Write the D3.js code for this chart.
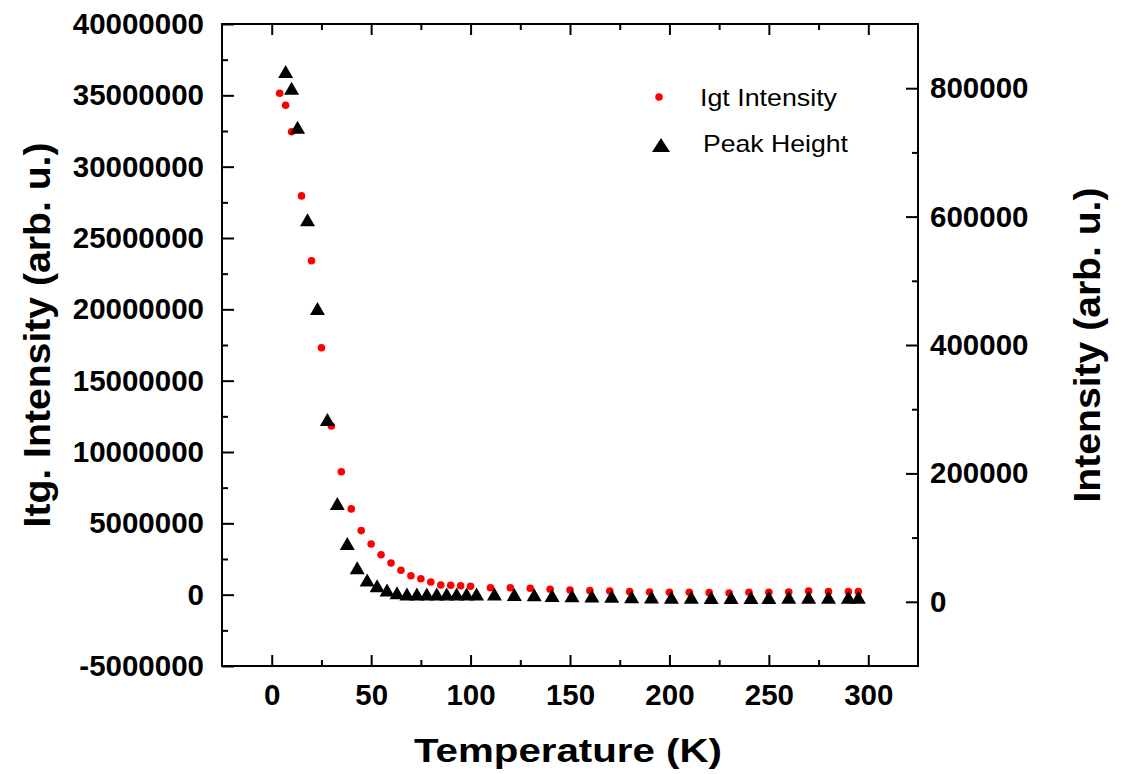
<!DOCTYPE html>
<html lang="en">
<head>
  <meta charset="UTF-8">
  <title>Itg. Intensity / Peak Height vs Temperature</title>
  <script src="https://d3js.org/d3.v7.min.js"></script>
  <style>
    body { margin: 0; background: #fff; }
    svg { display: block; background: #fff; }
    text { font-family: "Liberation Sans", Arial, sans-serif; fill: #000; }
  </style>
</head>
<body>
<svg id="chart" width="1130" height="774"></svg>
<script>
// integrated intensity (left axis)
const igtTemp = [4, 7, 10, 15, 20, 25, 30, 35, 40, 45, 50, 55, 60, 65, 70, 75, 80, 85, 90, 95, 100,
  110, 120, 130, 140, 150, 160, 170, 180, 190, 200, 210, 220, 230, 240, 250, 260, 270, 280, 290, 295];
const igtValue = [35150000, 34300000, 32450000, 27950000, 23410000, 17310000, 11820000, 8620000, 6010000,
  4490000, 3550000, 2800000, 2220000, 1710000, 1330000, 1120000, 890000, 680000, 660000, 630000, 590000,
  490000, 480000, 450000, 380000, 330000, 280000, 260000, 210000, 190000, 170000, 170000, 140000, 120000,
  170000, 170000, 190000, 260000, 210000, 210000, 210000];

// peak height (right axis)
const peakTemp = [7, 10, 13, 18, 23, 28, 33, 38, 43, 48, 53, 58, 63, 68, 73, 78, 83, 88, 93, 98, 103,
  112, 122, 132, 141, 151, 161, 171, 181, 191, 201, 211, 221, 231, 241, 250, 260, 270, 280, 290, 295];
const peakValue = [826000, 800000, 739000, 595000, 457000, 284000, 153000, 91000, 53000, 34000, 25000,
  18400, 14200, 12300, 12100, 12000, 12000, 12000, 12000, 12000, 12000,
  12100, 11500, 11000, 10000, 9500, 9000, 8500, 8000, 7500, 7000, 7000, 6800, 6600, 6600, 6800, 7000,
  7200, 7000, 7000, 7000];

const xTicks = [0, 50, 100, 150, 200, 250, 300];
const xMinor = [25, 75, 125, 175, 225, 275];
const leftTicks = [-5000000, 0, 5000000, 10000000, 15000000, 20000000, 25000000, 30000000, 35000000, 40000000];
const leftMinor = [-2500000, 2500000, 7500000, 12500000, 17500000, 22500000, 27500000, 32500000, 37500000];
const rightTicks = [0, 200000, 400000, 600000, 800000];
const rightMinor = [100000, 300000, 500000, 700000];

const seriesNames = ["Igt Intensity", "Peak Height"];

const plot = { left: 222, right: 918, top: 24, bottom: 666 };
const tickFont = 29.5;

const svg = d3.select("#chart");

const x = d3.scaleLinear().domain([-25, 325]).range([plot.left, plot.right]);
const yL = d3.scaleLinear().domain([-5000000, 40000000]).range([plot.bottom, plot.top]);
const yR = d3.scaleLinear().domain([-100000, 900000]).range([plot.bottom, plot.top]);

// plain hyphen for negatives, like the original
const fmt = d => String(d);

function styleAxis(g) {
  g.select(".domain").remove();
  g.selectAll(".tick line").attr("stroke", "#000").attr("stroke-width", 2);
  g.selectAll(".tick text")
    .attr("font-size", tickFont + "px")
    .attr("font-weight", "bold")
    .attr("fill", "#000");
}

// bottom
svg.append("g").attr("transform", `translate(0,${plot.bottom})`)
  .call(d3.axisBottom(x).tickValues(xTicks).tickSize(-11).tickSizeOuter(0).tickPadding(18).tickFormat(fmt))
  .call(styleAxis);
svg.append("g").attr("transform", `translate(0,${plot.bottom})`)
  .call(d3.axisBottom(x).tickValues(xMinor).tickSize(-6).tickSizeOuter(0).tickFormat(""))
  .call(styleAxis);
// top
svg.append("g").attr("transform", `translate(0,${plot.top})`)
  .call(d3.axisTop(x).tickValues(xTicks).tickSize(-11).tickSizeOuter(0).tickFormat(""))
  .call(styleAxis);
svg.append("g").attr("transform", `translate(0,${plot.top})`)
  .call(d3.axisTop(x).tickValues(xMinor).tickSize(-6).tickSizeOuter(0).tickFormat(""))
  .call(styleAxis);
// left
svg.append("g").attr("transform", `translate(${plot.left},0)`)
  .call(d3.axisLeft(yL).tickValues(leftTicks).tickSize(-12).tickSizeOuter(0).tickPadding(18).tickFormat(fmt))
  .call(styleAxis);
svg.append("g").attr("transform", `translate(${plot.left},0)`)
  .call(d3.axisLeft(yL).tickValues(leftMinor).tickSize(-6).tickSizeOuter(0).tickFormat(""))
  .call(styleAxis);
// right
svg.append("g").attr("transform", `translate(${plot.right},0)`)
  .call(d3.axisRight(yR).tickValues(rightTicks).tickSize(-12).tickSizeOuter(0).tickPadding(12).tickFormat(fmt))
  .call(styleAxis);
svg.append("g").attr("transform", `translate(${plot.right},0)`)
  .call(d3.axisRight(yR).tickValues(rightMinor).tickSize(-6).tickSizeOuter(0).tickFormat(""))
  .call(styleAxis);

// frame
svg.append("rect")
  .attr("x", plot.left).attr("y", plot.top)
  .attr("width", plot.right - plot.left).attr("height", plot.bottom - plot.top)
  .attr("fill", "none").attr("stroke", "#000").attr("stroke-width", 2);

// data
const igt = igtTemp.map((t, i) => ({ t, v: igtValue[i] }));
const peak = peakTemp.map((t, i) => ({ t, v: peakValue[i] }));

const triPath = (w, h) => `M0,${-h / 2}L${w / 2},${h / 2}L${-w / 2},${h / 2}Z`;

svg.append("g").selectAll("circle")
  .data(igt).join("circle")
  .attr("cx", d => x(d.t)).attr("cy", d => yL(d.v))
  .attr("r", 3.8).attr("fill", "#ff0000");

svg.append("g").selectAll("path")
  .data(peak).join("path")
  .attr("d", triPath(15, 13))
  .attr("transform", d => `translate(${x(d.t)},${yR(d.v)})`)
  .attr("fill", "#000");

// legend
const legend = svg.append("g");
legend.append("circle").attr("cx", 659).attr("cy", 97).attr("r", 3.8).attr("fill", "#ff0000");
legend.append("path").attr("d", triPath(18, 14)).attr("transform", "translate(661,145)").attr("fill", "#000");
legend.append("text").attr("x", 700).attr("y", 106).attr("font-size", "24px")
  .attr("textLength", 137).attr("lengthAdjust", "spacingAndGlyphs").text(seriesNames[0]);
legend.append("text").attr("x", 703).attr("y", 152).attr("font-size", "24px")
  .attr("textLength", 145).attr("lengthAdjust", "spacingAndGlyphs").text(seriesNames[1]);

// axis titles
svg.append("text")
  .attr("x", 568).attr("y", 762)
  .attr("text-anchor", "middle").attr("font-size", "34px").attr("font-weight", "bold")
  .attr("textLength", 308).attr("lengthAdjust", "spacingAndGlyphs")
  .text("Temperature (K)");

svg.append("text")
  .attr("transform", "translate(50,335) rotate(-90)")
  .attr("text-anchor", "middle").attr("font-size", "36px").attr("font-weight", "bold")
  .attr("textLength", 385).attr("lengthAdjust", "spacingAndGlyphs")
  .text("Itg. Intensity (arb. u.)");

svg.append("text")
  .attr("transform", "translate(1100,345) rotate(-90)")
  .attr("text-anchor", "middle").attr("font-size", "36px").attr("font-weight", "bold")
  .attr("textLength", 315).attr("lengthAdjust", "spacingAndGlyphs")
  .text("Intensity (arb. u.)");
</script>
</body>
</html>
